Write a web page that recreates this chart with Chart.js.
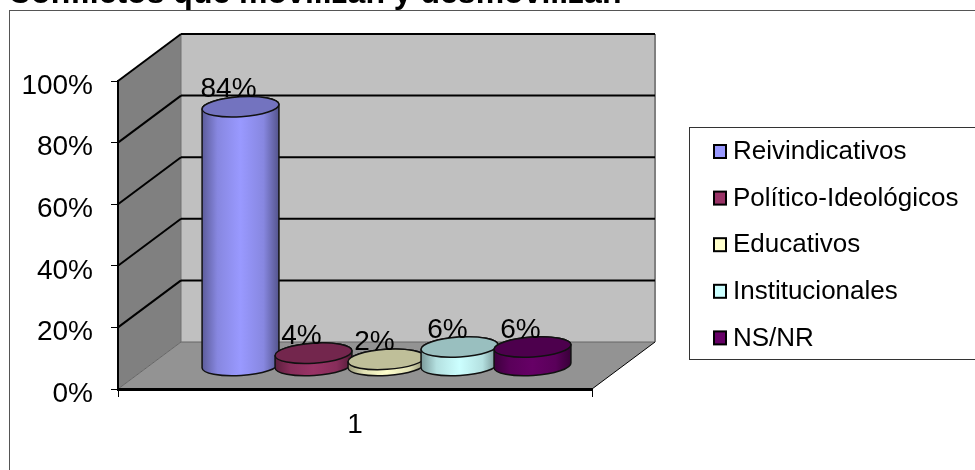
<!DOCTYPE html>
<html>
<head>
<meta charset="utf-8">
<script src="https://cdn.jsdelivr.net/npm/chart.js@4"></script>
<style>
  html, body { margin: 0; padding: 0; background: #fff; }
  canvas { display: block; }
</style>
</head>
<body>
<canvas id="myChart" width="975" height="470"></canvas>
<script>
const categories = ['1'];
const seriesNames = ['Reivindicativos', 'Político-Ideológicos', 'Educativos', 'Institucionales', 'NS/NR'];
const seriesValues = [[84], [4], [2], [6], [6]];
const seriesColors = [[153, 153, 255], [153, 51, 102], [255, 255, 204], [204, 255, 255], [102, 0, 102]];
const titleText = 'Conflictos que movilizan y desmovilizan';

const font = 'Liberation Sans, Arial, sans-serif';
const depthX = 63;
const depthY = 47;
const tilt = -0.065;
const capRy = 10;

function shade(rgb, k) {
  return 'rgb(' + rgb.map(c => Math.round(c * k)).join(',') + ')';
}

function poly(ctx, pts, fill) {
  ctx.beginPath();
  pts.forEach((p, i) => i ? ctx.lineTo(p[0], p[1]) : ctx.moveTo(p[0], p[1]));
  ctx.closePath();
  ctx.fillStyle = fill;
  ctx.fill();
}

function line(ctx, x1, y1, x2, y2, color, width) {
  ctx.beginPath();
  ctx.moveTo(x1, y1);
  ctx.lineTo(x2, y2);
  ctx.strokeStyle = color;
  ctx.lineWidth = width;
  ctx.stroke();
}

// the box round the chart, the walls and the floor
const wallsPlugin = {
  id: 'walls',
  // the right padding keeps the plot clear of the legend but would squeeze the title
  afterLayout(chart) {
    chart.titleBlock.right = chart.width;
  },
  beforeDraw(chart) {
    const ctx = chart.ctx;
    const { left, right, top, bottom } = chart.chartArea;
    ctx.save();
    ctx.fillStyle = '#fff';
    ctx.fillRect(0, 0, chart.width, chart.height);
    ctx.strokeStyle = '#555';
    ctx.lineWidth = 1;
    ctx.strokeRect(9.5, 10.5, chart.width + 20, chart.height + 20);

    poly(ctx, [[left + depthX, top - depthY], [right + depthX, top - depthY], [right + depthX, bottom - depthY], [left + depthX, bottom - depthY]], '#c0c0c0');
    poly(ctx, [[left, top], [left + depthX, top - depthY], [left + depthX, bottom - depthY], [left, bottom]], '#808080');
    poly(ctx, [[left, bottom], [right, bottom], [right + depthX, bottom - depthY], [left + depthX, bottom - depthY]], '#939393');

    line(ctx, right + depthX, top - depthY, right + depthX, bottom - depthY, '#808080', 2);
    line(ctx, left + depthX, bottom - depthY, right + depthX, bottom - depthY, '#666', 1);
    line(ctx, left + depthX, bottom - depthY, left + depthX, top - depthY, '#707070', 1);
    line(ctx, left, bottom, left + depthX, bottom - depthY, '#666', 1);
    line(ctx, right, bottom, right + depthX, bottom - depthY, '#000', 1);

    const y = chart.scales.y;
    y.ticks.forEach(t => {
      if (t.value === 0) return;
      const py = y.getPixelForValue(t.value);
      line(ctx, left, py, left + depthX, py - depthY, '#000', 2);
      line(ctx, left + depthX, py - depthY, right + depthX, py - depthY, '#000', 2);
    });
    ctx.restore();
  },

  // cylinders take the place of the flat bars
  beforeDatasetsDraw(chart) {
    const ctx = chart.ctx;
    const zero = chart.scales.y.getPixelForValue(0);
    ctx.save();
    chart.data.datasets.forEach((ds, i) => {
      const bar = chart.getDatasetMeta(i).data[0];
      const rgb = seriesColors[i];
      const rx = bar.width / 2;
      const cx = bar.x + depthX / 2;
      const by = zero - depthY / 2;
      const ty = bar.y - depthY / 2;

      const g = ctx.createLinearGradient(cx - rx, 0, cx + rx, 0);
      g.addColorStop(0, shade(rgb, 0.6));
      g.addColorStop(0.2, shade(rgb, 0.88));
      g.addColorStop(0.5, shade(rgb, 1));
      g.addColorStop(0.8, shade(rgb, 0.88));
      g.addColorStop(1, shade(rgb, 0.55));

      ctx.beginPath();
      ctx.ellipse(cx, by, rx, capRy, tilt, 0, Math.PI);
      ctx.ellipse(cx, ty, rx, capRy, tilt, Math.PI, Math.PI * 2);
      ctx.closePath();
      ctx.fillStyle = g;
      ctx.fill();
      ctx.strokeStyle = '#111';
      ctx.lineWidth = 1.5;
      ctx.stroke();

      ctx.beginPath();
      ctx.ellipse(cx, ty, rx, capRy, tilt, 0, Math.PI * 2);
      ctx.fillStyle = shade(rgb, 0.75);
      ctx.fill();
      ctx.stroke();
    });

    // value labels sit above and left of each cap
    ctx.fillStyle = '#000';
    ctx.font = '28px ' + font;
    ctx.textAlign = 'center';
    ctx.textBaseline = 'middle';
    chart.data.datasets.forEach((ds, i) => {
      const bar = chart.getDatasetMeta(i).data[0];
      ctx.fillText(ds.data[0] + '%', bar.x + depthX / 2 - 12, bar.y - depthY / 2 - 17);
    });
    ctx.restore();
    return false;
  },

  afterDraw(chart) {
    const ctx = chart.ctx;
    ctx.save();
    ctx.strokeStyle = '#333';
    ctx.lineWidth = 1;
    ctx.strokeRect(689.5, 127.5, 320, 232);
    ctx.font = '26px ' + font;
    ctx.textAlign = 'left';
    ctx.textBaseline = 'middle';
    chart.data.datasets.forEach((ds, i) => {
      const y = 152 + i * 46.6;
      ctx.fillStyle = shade(seriesColors[i], 1);
      ctx.strokeStyle = '#000';
      ctx.lineWidth = 2;
      ctx.fillRect(714, y - 7, 12, 13);
      ctx.strokeRect(714, y - 7, 12, 13);
      ctx.fillStyle = '#000';
      ctx.fillText(ds.label, 733, y);
    });
    ctx.restore();
  }
};

const datasets = seriesNames.map((name, i) => ({
  label: name,
  data: seriesValues[i],
  backgroundColor: shade(seriesColors[i], 1)
}));

new Chart(document.getElementById('myChart').getContext('2d'), {
  type: 'bar',
  data: { labels: categories, datasets: datasets },
  plugins: [wallsPlugin],
  options: {
    responsive: false,
    animation: false,
    layout: { padding: { left: 8, right: 383, top: 0, bottom: 0 } },
    datasets: { bar: { categoryPercentage: 0.77, barPercentage: 1.055 } },
    plugins: {
      legend: { display: false },
      tooltip: { enabled: false },
      title: {
        display: true,
        text: titleText,
        align: 'start',
        color: '#000',
        font: { family: font, size: 32, weight: 'bold', lineHeight: 1.2 },
        padding: { top: -25, bottom: 67.6 }
      }
    },
    scales: {
      x: {
        afterFit: s => { s.height = 81; },
        border: { color: '#000', width: 3 },
        grid: { drawOnChartArea: false, drawTicks: true, tickLength: 8, color: '#000' },
        ticks: { color: '#000', padding: 11, font: { family: font, size: 28 } }
      },
      y: {
        min: 0,
        max: 100,
        afterFit: s => { s.width = 110; },
        border: { color: '#000', width: 2 },
        grid: { drawOnChartArea: false, drawTicks: true, tickLength: 7, color: '#000' },
        ticks: {
          stepSize: 20,
          color: '#000',
          padding: 18,
          labelOffset: 5,
          font: { family: font, size: 28 },
          callback: v => v + '%'
        }
      }
    }
  }
});
</script>
</body>
</html>
